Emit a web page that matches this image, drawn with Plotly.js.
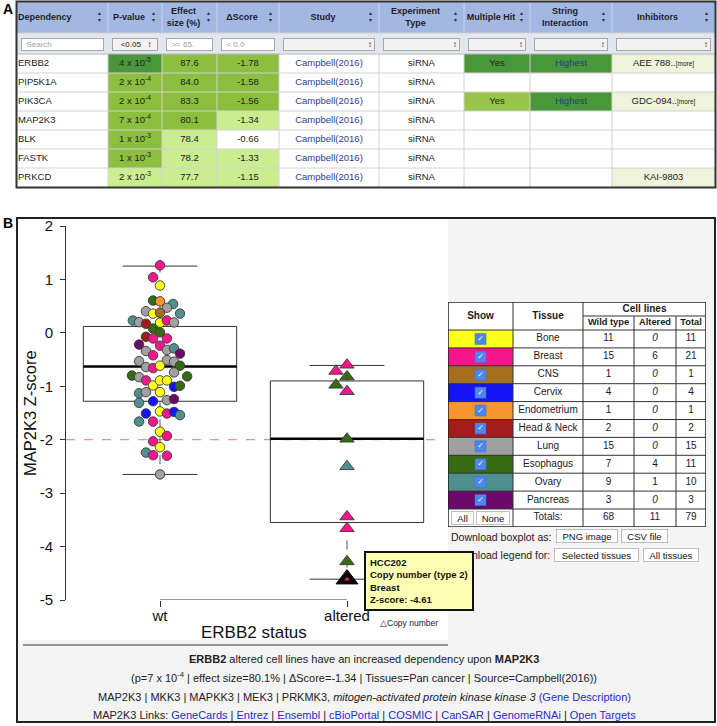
<!DOCTYPE html>
<html><head><meta charset="utf-8">
<script src="https://cdn.plot.ly/plotly-3.0.1.min.js"></script>
<style>html,body{margin:0;padding:0;background:#fff;overflow:hidden}#chart{width:717px;height:726px}</style>
</head><body><div id="chart"></div>
<script>
// ================= DATA =================
// ---- Panel A: dependency table
const depGenes = ['ERBB2','PIP5K1A','PIK3CA','MAP2K3','BLK','FASTK','PRKCD'];
const pMantissa = [4,2,2,7,1,1,2];
const pExponent = [-5,-4,-4,-4,-3,-3,-3];
const effectSize = [87.6,84.0,83.3,80.1,78.4,78.2,77.7];
const deltaScore = [-1.78,-1.58,-1.56,-1.34,-0.66,-1.33,-1.15];
const studies = ['Campbell(2016)','Campbell(2016)','Campbell(2016)','Campbell(2016)','Campbell(2016)','Campbell(2016)','Campbell(2016)'];
const expTypes = ['siRNA','siRNA','siRNA','siRNA','siRNA','siRNA','siRNA'];
const multipleHit = ['Yes','','Yes','','','',''];
const stringInteraction = ['Highest','','Highest','','','',''];
const inhibitors = ['AEE 788..','','GDC-094..','','','','KAI-9803'];
const inhibitorMore = [true,false,true,false,false,false,false];
const headersA = ['Dependency','P-value','Effect<br>size (%)','ΔScore','Study','Experiment<br>Type','Multiple Hit','String<br>Interaction','Inhibitors'];
const filtersA = ['Search','&lt;0.05','&gt;= 65.','&lt; 0.0','','','','',''];

// ---- Panel B: tissues legend
const tissues = ['Bone','Breast','CNS','Cervix','Endometrium','Head & Neck','Lung','Esophagus','Ovary','Pancreas'];
const wtCounts = [11,15,1,4,1,2,15,7,9,3];
const altCounts = [0,6,0,0,0,0,0,4,1,0];

// ---- Panel B: boxplot
const groups = ['wt','altered'];
const yTicks = [-5,-4,-3,-2,-1,0,1,2];
const wtZ = [1.265,1.04,0.886,0.605,0.59,0.54,0.405,0.47,0.36,0.375,0.36,0.23,0.20,0.17,0.19,0.23,0.195,0.08,0.01,-0.075,
  -0.105,-0.105,-0.22,-0.24,-0.34,-0.32,-0.29,-0.39,-0.42,-0.53,-0.51,-0.54,-0.64,-0.66,-0.615,-0.615,-0.74,-0.80,-0.83,-0.89,
  -0.815,-0.985,-0.89,-0.89,-1.01,-0.99,-1.13,-1.11,-1.11,-1.31,-1.28,-1.26,-1.24,-1.51,-1.47,-1.51,-1.48,-1.54,-1.66,-1.66,
  -1.85,-1.93,-2.03,-2.14,-2.24,-2.29,-2.30,-2.65];
const wtSwarm = [0,-0.037,0,-0.037,0,0.07,-0.075,0.037,-0.037,0,0.107,-0.145,-0.112,-0.075,0,0.037,0.075,-0.037,0,-0.075,
  -0.037,0.037,-0.112,0,-0.075,0.037,0.075,0.107,-0.037,-0.112,0.037,0.075,-0.075,-0.037,0,0.107,0.075,-0.15,-0.112,-0.075,
  0.145,-0.037,0,0.037,0.075,0.107,-0.112,-0.075,0,-0.112,-0.037,0.037,0.075,-0.075,0,0.037,0.075,0.107,-0.112,-0.037,
  0,0.037,-0.037,0,-0.075,-0.037,0.037,0];
const wtTissue = ['Breast','Breast','Bone','Esophagus','Endometrium','Ovary','Lung','Lung','Bone','CNS','Ovary','Ovary','Lung','Head & Neck','Bone','Breast','Lung','Esophagus','Esophagus','Head & Neck',
  'Breast','Breast','Pancreas','Breast','Lung','Lung','Ovary','Pancreas','Breast','Lung','Lung','Lung','Lung','Breast','Bone','Esophagus','Lung','Esophagus','Lung','Breast',
  'Esophagus','Bone','Bone','Bone','Cervix','Esophagus','Ovary','Lung','Bone','Ovary','Cervix','Lung','Pancreas','Cervix','Bone','Breast','Cervix','Ovary','Ovary','Breast',
  'Bone','Breast','Breast','Bone','Ovary','Breast','Breast','Lung'];
const altZ = [-0.60,-0.715,-0.82,-0.975,-1.095,-1.985,-2.50,-3.44,-3.66,-4.28,-4.61];
const altSwarm = [0,-0.059,0,-0.059,0,0,0,0,0,0,0];
const altTissue = ['Breast','Breast','Esophagus','Esophagus','Breast','Esophagus','Ovary','Breast','Breast','Esophagus','Breast'];
const boxQ1 = [-1.28,-3.55];
const boxMedian = [-0.63,-1.98];
const boxQ3 = [0.12,-0.90];
const whiskerLow = [-2.65,-4.61];
const whiskerHigh = [1.25,-0.61];
const dependencyThreshold = -2;
const highlightIndex = 10;
const highlightCell = 'HCC202';
const highlightAlteration = 'Copy number (type 2)';
const geneSynonyms = ['MAP2K3','MKK3','MAPKK3','MEK3','PRKMK3'];
const geneDescription = 'mitogen-activated protein kinase kinase 3';
const geneLinks = ['GeneCards','Entrez','Ensembl','cBioPortal','COSMIC','CanSAR','GenomeRNAi','Open Targets'];

// ================= STYLE =================
const FONT = '"Liberation Sans", Arial, Helvetica, sans-serif';
const W = 717, H = 726;
const PX = x => x / W, PY = y => 1 - y / H;
const tissueColors = {'Bone':'#ffff1a','Breast':'#f4168a','CNS':'#a36f1e','Cervix':'#1414f5','Endometrium':'#fb9530',
  'Head & Neck':'#a11d1d','Lung':'#a0a0a0','Esophagus':'#366b13','Ovary':'#4f8f8f','Pancreas':'#6b0a6b'};
const G = {dark:'#4a963a', mid:'#8dbf3f', light:'#caed8f', white:'#ffffff', yes2:'#98c64b', inhib:'#eef3da', head:'#a2b8e2', filter:'#e2e7ef'};
const multiHitFill = [G.dark,G.white,G.yes2,G.white,G.white,G.white,G.white];

const traces = [], shapes = [], annotations = [];

function discreteHeatmap(fills, xE, yE, xa, ya) {
  const palette = [...new Set(fills.flat())];
  const K = palette.length;
  const z = fills.map(r => r.map(c => palette.indexOf(c)));
  const cs = [];
  palette.forEach((c,k) => { cs.push([k/K, c]); cs.push([(k+1)/K, c]); });
  return {type:'heatmap', x:xE, y:yE, z:z, zmin:-0.5, zmax:K-0.5, colorscale:cs, showscale:false, xaxis:xa, yaxis:ya, hoverinfo:'skip'};
}
function cum(arr){ const e=[0]; arr.forEach(v=>e.push(e[e.length-1]+v)); return e; }
function line(xref,yref,x0,y0,x1,y1,color,width,dash,layer){
  shapes.push({type:'line',xref,yref,x0,y0,x1,y1,line:{color,width:width||1,dash:dash||'solid'},layer:layer||'above'});
}

// ================= PANEL A TABLE =================
const colWA = [91,54,55,62,100,85,66,82,103];
const rowHA = [31,21,19,19,19,19,19,19,19];
const xEA = cum(colWA), yEA = cum(rowHA);
const wA = xEA[xEA.length-1], hA = yEA[yEA.length-1];
const A0x = 17, A0y = 2;
function pShade(i){ const p = pMantissa[i]*Math.pow(10,pExponent[i]); return p < 1e-4 ? G.dark : (p <= 1e-3 ? G.mid : G.light); }
function effShade(v){ return v >= 80 ? G.mid : G.light; }
function dsShade(v){ return v <= -1.5 ? G.mid : (v <= -1 ? G.light : G.white); }
const fillsA = [Array(9).fill(G.head), Array(9).fill(G.filter)];
depGenes.forEach((g,i) => fillsA.push([G.white, pShade(i), effShade(effectSize[i]), dsShade(deltaScore[i]), G.white, G.white,
  multiHitFill[i], stringInteraction[i] ? G.dark : G.white, inhibitors[i] ? G.inhib : G.white]));
traces.push(discreteHeatmap(fillsA, xEA, yEA, 'x2', 'y2'));

const cxA = k => (xEA[k]+xEA[k+1])/2, cyA = r => (yEA[r]+yEA[r+1])/2;
const TA = {x:[],y:[],text:[],color:[],pos:[],size:[]};
function addTA(x,y,t,c,p,s){ TA.x.push(x);TA.y.push(y);TA.text.push(t);TA.color.push(c);TA.pos.push(p);TA.size.push(s); }
headersA.forEach((h,k) => {
  const t = h.split('<br>').map(s => '<b>'+s+'</b>').join('<br>');
  if (k===0) addTA(xEA[0]+1, cyA(0), t, '#1d1d2a', 'middle right', 9);
  else addTA((xEA[k]+xEA[k+1]-12)/2, cyA(0), t, '#1d1d2a', 'middle center', 9);
  addTA(xEA[k+1]-9, cyA(0), '▴<br>▾', '#333', 'middle center', 5.5);
});
depGenes.forEach((g,i) => {
  const r = i+2, y = cyA(r);
  addTA(xEA[0]+1, y, g, '#222', 'middle right', 9.5);
  addTA(cxA(1), y, pMantissa[i]+' x 10<sup>'+pExponent[i]+'</sup>', '#222', 'middle center', 9.5);
  addTA(cxA(2), y, effectSize[i].toFixed(1), '#222', 'middle center', 9.5);
  addTA(cxA(3), y, deltaScore[i].toFixed(2), '#222', 'middle center', 9.5);
  addTA(cxA(4), y, studies[i], '#2c3e8c', 'middle center', 9.5);
  addTA(cxA(5), y, expTypes[i], '#222', 'middle center', 9.5);
  if (multipleHit[i]) addTA(cxA(6), y, multipleHit[i], '#222', 'middle center', 9.5);
  if (stringInteraction[i]) addTA(cxA(7), y, stringInteraction[i], '#1f3f80', 'middle center', 9.5);
  if (inhibitors[i]) addTA(cxA(8), y, inhibitors[i] + (inhibitorMore[i] ? '<span style="font-size:6.5px">[more]</span>' : ''), '#222', 'middle center', 9.5);
});
traces.push({type:'scatter', mode:'text', x:TA.x, y:TA.y, text:TA.text, textposition:TA.pos,
  textfont:{family:FONT, size:TA.size, color:TA.color}, xaxis:'x2', yaxis:'y2', hoverinfo:'skip', cliponaxis:false});
// grid lines A
for (let k=1;k<xEA.length-1;k++){
  line('x2','y2',xEA[k],0,xEA[k],yEA[1],'#c9d5ec',1);
  line('x2','y2',xEA[k],yEA[2],xEA[k],hA,'#d2d2d2',1);
}
for (let r=1;r<yEA.length-1;r++) line('x2','y2',0,yEA[r],wA,yEA[r], r===2 ? '#b8b8b8' : '#d2d2d2',1);
shapes.push({type:'rect',xref:'paper',yref:'paper',x0:PX(A0x-0.5),x1:PX(A0x+wA+0.5),y0:PY(A0y+hA+0.5),y1:PY(A0y-0.5),line:{color:'#333',width:2},layer:'above'});
// filter inputs
filtersA.forEach((f,k) => {
  const x0 = xEA[k]+4, x1 = xEA[k+1]-4;
  const isSelect = (k===1 || k>=4);
  let txt;
  if (k===1) txt = '\u00a0' + f + '\u00a0\u00a0\u00a0↕';
  else if (isSelect) txt = '↕\u00a0';
  else txt = '\u00a0\u00a0' + f;
  annotations.push({xref:'x2',yref:'y2',x:(x0+x1)/2,y:cyA(1)+0.5,xanchor:'center',yanchor:'middle',text:txt,showarrow:false,
    font:{family:FONT,size:8,color: k===1 ? '#222' : (isSelect ? '#333' : '#a0a0a0')},
    align: (k===1 ? 'center' : (isSelect ? 'right' : 'left')), width:x1-x0-2, height:11,
    bgcolor: isSelect ? '#f2f2f2' : '#ffffff', bordercolor:'#a8a8a8', borderwidth:1, borderpad:0});
});

// ================= PANEL B BACKGROUND =================
shapes.push({type:'rect',xref:'paper',yref:'paper',x0:PX(17),x1:PX(715),y0:PY(722),y1:PY(218),fillcolor:'#f4f4f4',line:{width:0},layer:'below'});
shapes.push({type:'rect',xref:'paper',yref:'paper',x0:PX(18),x1:PX(448),y0:PY(640),y1:PY(219),fillcolor:'#ffffff',line:{width:0},layer:'below'});
shapes.push({type:'rect',xref:'paper',yref:'paper',x0:PX(17),x1:PX(715),y0:PY(722),y1:PY(218),line:{color:'#222',width:2},layer:'above'});
line('paper','paper',PX(23),PY(645),PX(448),PY(645),'#333',1);

// ================= BOXPLOT =================
const wtX = wtSwarm.map(d => 0 + d);
const altX = altSwarm.map(d => 1 + d);
const boxHalf = 0.41, capHalf = 0.2;
groups.forEach((g,k) => {
  shapes.push({type:'rect',xref:'x',yref:'y',x0:k-boxHalf,x1:k+boxHalf,y0:boxQ1[k],y1:boxQ3[k],line:{color:'#333',width:1},layer:'below'});
  line('x','y',k-boxHalf,boxMedian[k],k+boxHalf,boxMedian[k],'#000',2.5,'solid','below');
  line('x','y',k-capHalf,whiskerHigh[k],k+capHalf,whiskerHigh[k],'#333',1,'solid','below');
  line('x','y',k-capHalf,whiskerLow[k],k+capHalf,whiskerLow[k],'#333',1,'solid','below');
  line('x','y',k,boxQ3[k],k,whiskerHigh[k],'#555',1,'dash','below');
  line('x','y',k,boxQ1[k],k,whiskerLow[k],'#555',1,'dash','below');
});
shapes.push({type:'line',xref:'x domain',yref:'y',x0:0,x1:1,y0:dependencyThreshold,y1:dependencyThreshold,line:{color:'#ff6f6f',width:1,dash:'dash'},layer:'below'});
line('x','y',0,-5,groups.length-1,-5,'#333',1,'solid','below');

traces.push({type:'scatter',mode:'markers',x:wtX,y:wtZ,xaxis:'x',yaxis:'y',hoverinfo:'skip',cliponaxis:false,
  marker:{symbol:'circle',size:9.5,color:wtTissue.map(t=>tissueColors[t]),line:{color:'#3a3a3a',width:0.9}}});
traces.push({type:'scatter',mode:'markers',x:altX,y:altZ,xaxis:'x',yaxis:'y',hoverinfo:'skip',cliponaxis:false,
  marker:{symbol:'triangle-up',size:12.5,color:altTissue.map(t=>tissueColors[t]),line:{color:'#3a3a3a',width:0.9}}});
traces.push({type:'scatter',mode:'markers',x:[altX[highlightIndex]],y:[altZ[highlightIndex]],xaxis:'x',yaxis:'y',hoverinfo:'skip',cliponaxis:false,
  marker:{symbol:'triangle-up',size:19,color:'#000',line:{color:'#000',width:1}}});
traces.push({type:'scatter',mode:'markers',x:[altX[highlightIndex]],y:[altZ[highlightIndex]],xaxis:'x',yaxis:'y',hoverinfo:'skip',cliponaxis:false,
  marker:{symbol:'triangle-up',size:5,color:tissueColors[altTissue[highlightIndex]],line:{width:0}}});

// ================= LEGEND TABLE =================
const colWL = [65,70,51,42,30];
const xEL = cum(colWL);
const hdrL = 28, rowL = 17.9;
const nRowsL = tissues.length + 1;
const yEL = [0, hdrL]; for (let r=0;r<nRowsL;r++) yEL.push(+(hdrL + rowL*(r+1)).toFixed(2));
const wL = xEL[xEL.length-1], hL = yEL[yEL.length-1];
const L0x = 448, L0y = 302;
const fillsL = [Array(5).fill('#ffffff')];
tissues.forEach(t => fillsL.push([tissueColors[t],'#ffffff','#ffffff','#ffffff','#ffffff']));
fillsL.push(Array(5).fill('#ffffff'));
traces.push(discreteHeatmap(fillsL, xEL, yEL, 'x3', 'y3'));
const cxL = k => (xEL[k]+xEL[k+1])/2, cyL = r => (yEL[r+1]+yEL[r+2])/2;
const TL = {x:[],y:[],text:[],size:[]};
function addTL(x,y,t,s){ TL.x.push(x);TL.y.push(y);TL.text.push(t);TL.size.push(s||10); }
addTL(cxL(0), hdrL/2, '<b>Show</b>', 10);
addTL(cxL(1), hdrL/2, '<b>Tissue</b>', 10);
addTL((xEL[2]+xEL[5])/2, hdrL/4+0.5, '<b>Cell lines</b>', 10);
addTL(cxL(2), hdrL*3/4, '<b>Wild type</b>', 9.3);
addTL(cxL(3), hdrL*3/4, '<b>Altered</b>', 9.3);
addTL(cxL(4), hdrL*3/4, '<b>Total</b>', 9.3);
tissues.forEach((t,i) => {
  const y = cyL(i);
  addTL(cxL(1), y, t);
  addTL(cxL(2), y, String(wtCounts[i]));
  addTL(cxL(3), y, altCounts[i]===0 ? '<i>0</i>' : String(altCounts[i]));
  addTL(cxL(4), y, String(wtCounts[i]+altCounts[i]));
});
const sum = a => a.reduce((p,v)=>p+v,0);
const yTot = cyL(tissues.length);
addTL(cxL(1), yTot, 'Totals:');
addTL(cxL(2), yTot, String(sum(wtCounts)));
addTL(cxL(3), yTot, String(sum(altCounts)));
addTL(cxL(4), yTot, String(sum(wtCounts)+sum(altCounts)));
traces.push({type:'scatter',mode:'markers',x:tissues.map(()=>cxL(0)),y:tissues.map((t,i)=>cyL(i)),xaxis:'x3',yaxis:'y3',hoverinfo:'skip',
  marker:{symbol:'square',size:11,color:'#4d86ee',line:{color:'#3a6fd0',width:0.5}}});
traces.push({type:'scatter',mode:'text',x:tissues.map(()=>cxL(0)),y:tissues.map((t,i)=>cyL(i)),text:tissues.map(()=>'<b>✓</b>'),xaxis:'x3',yaxis:'y3',hoverinfo:'skip',
  textposition:'middle center',textfont:{family:'DejaVu Sans',size:8,color:'#ffffff'}});
traces.push({type:'scatter',mode:'text',x:TL.x,y:TL.y,text:TL.text,textposition:'middle center',xaxis:'x3',yaxis:'y3',hoverinfo:'skip',cliponaxis:false,
  textfont:{family:FONT,size:TL.size,color:'#1a1a1a'}});
// legend grid
line('x3','y3',xEL[2],hdrL/2,wL,hdrL/2,'#333',1);
line('x3','y3',xEL[1],0,xEL[1],hL,'#333',1);
line('x3','y3',xEL[2],0,xEL[2],hL,'#333',1);
line('x3','y3',xEL[3],hdrL/2,xEL[3],hL,'#333',1);
line('x3','y3',xEL[4],hdrL/2,xEL[4],hL,'#333',1);
for (let r=1;r<yEL.length-1;r++) line('x3','y3',0,yEL[r],wL,yEL[r],'#333',1);
shapes.push({type:'rect',xref:'x3',yref:'y3',x0:0,x1:wL,y0:0,y1:hL,line:{color:'#222',width:1.5},layer:'above'});
// All / None buttons
[['All',3,26],['None',28,62]].forEach(b => annotations.push({xref:'x3',yref:'y3',x:(b[1]+b[2])/2,y:yTot,xanchor:'center',yanchor:'middle',text:b[0],showarrow:false,
  font:{family:FONT,size:9.5,color:'#111'},bgcolor:'#ffffff',bordercolor:'#c0c0c0',borderwidth:1,borderpad:0,width:b[2]-b[1]-2,height:12}));

// ================= TEXT ANNOTATIONS =================
function txt(x,y,t,opt){ annotations.push(Object.assign({xref:'paper',yref:'paper',x:PX(x),y:PY(y),text:t,showarrow:false,
  font:{family:FONT,size:11,color:'#222'},xanchor:'center',yanchor:'middle'},opt||{})); }
function btn(x0,x1,yc,t){ annotations.push({xref:'paper',yref:'paper',x:PX((x0+x1)/2),y:PY(yc),xanchor:'center',yanchor:'middle',text:t,showarrow:false,
  font:{family:FONT,size:9.5,color:'#111'},bgcolor:'#ffffff',bordercolor:'#bdbdbd',borderwidth:1,borderpad:0,width:x1-x0-2,height:12}); }
txt(8,9,'<b>A</b>',{font:{family:FONT,size:14,color:'#000'}});
txt(8,223,'<b>B</b>',{font:{family:FONT,size:14,color:'#000'}});
txt(30,413,'MAP2K3 Z-score',{textangle:-90,font:{family:FONT,size:16.5,color:'#111'}});
annotations.push({xref:'x',yref:'paper',x:(groups.length-1)/2,y:PY(632),text:'ERBB2 status',showarrow:false,
  font:{family:FONT,size:17,color:'#111'},xanchor:'center',yanchor:'middle'});
txt(449,537,'Download boxplot as:',{xanchor:'left',font:{family:FONT,size:10.5,color:'#222'}});
btn(556,618,536,'PNG image'); btn(621,668,536,'CSV file');
txt(449,555,'Download legend for:',{xanchor:'left',font:{family:FONT,size:10.5,color:'#222'}});
btn(554,639,555,'Selected tissues'); btn(643,699,555,'All tissues');
txt(378,623,'△Copy number',{xanchor:'left',font:{family:FONT,size:8.5,color:'#222'}});
annotations.push({xref:'paper',yref:'paper',x:PX(364),y:PY(551),xanchor:'left',yanchor:'top',align:'left',showarrow:false,
  text:'<b>'+highlightCell+'</b><br><b>'+highlightAlteration+'</b><br><b>'+altTissue[highlightIndex]+'</b><br><b>Z-score: '+altZ[highlightIndex].toFixed(2)+'</b>',
  font:{family:FONT,size:9.5,color:'#111'},bgcolor:'#ffffb3',bordercolor:'#111',borderwidth:2,borderpad:4});
const mi = depGenes.indexOf('MAP2K3');
txt(364,659,'<b>ERBB2</b> altered cell lines have an increased dependency upon <b>MAP2K3</b>');
txt(364,677,'(p='+pMantissa[mi]+' x 10<sup>'+pExponent[mi]+'</sup> | effect size='+effectSize[mi].toFixed(1)+'% | ΔScore='+deltaScore[mi].toFixed(2)+' | Tissues=Pan cancer | Source='+studies[mi]+')');
txt(364,697,geneSynonyms.join(' | ')+', <i>'+geneDescription+'</i> <span style="color:#2a2ad0">(Gene Description)</span>');
txt(364,715,'MAP2K3 Links: '+geneLinks.map(l=>'<span style="color:#2a2ad0">'+l+'</span>').join(' | '));

// ================= LAYOUT =================
const pxPerUnit = 187, wtPx = 160;
const layout = {
  width:W, height:H, margin:{l:0,r:0,t:0,b:0}, paper_bgcolor:'#ffffff', plot_bgcolor:'rgba(0,0,0,0)',
  showlegend:false, hovermode:false, dragmode:false, font:{family:FONT},
  xaxis:{domain:[PX(66),PX(440)], range:[(66-wtPx)/pxPerUnit,(440-wtPx)/pxPerUnit], tickvals:groups.map((g,i)=>i), ticktext:groups,
    ticks:'outside', ticklen:6, tickcolor:'#333', showline:false, showgrid:false, zeroline:false, anchor:'y', ticklabelstandoff:-4,
    tickfont:{family:FONT,size:15,color:'#111'}},
  yaxis:{domain:[PY(600),PY(226)], range:[-5,2], tickvals:yTicks, ticktext:yTicks.map(String), ticks:'outside', ticklen:5, tickcolor:'#333',
    showline:true, linecolor:'#333', linewidth:1, showgrid:false, zeroline:false, anchor:'x', ticklabelstandoff:4,
    tickfont:{family:FONT,size:15,color:'#111'}},
  xaxis2:{domain:[PX(A0x),PX(A0x+wA)], range:[0,wA], visible:false, anchor:'y2'},
  yaxis2:{domain:[PY(A0y+hA),PY(A0y)], range:[hA,0], visible:false, anchor:'x2'},
  xaxis3:{domain:[PX(L0x),PX(L0x+wL)], range:[0,wL], visible:false, anchor:'y3'},
  yaxis3:{domain:[PY(L0y+hL),PY(L0y)], range:[hL,0], visible:false, anchor:'x3'},
  shapes:shapes, annotations:annotations
};
Plotly.newPlot('chart', traces, layout, {staticPlot:true, displayModeBar:false});
</script></body></html>
